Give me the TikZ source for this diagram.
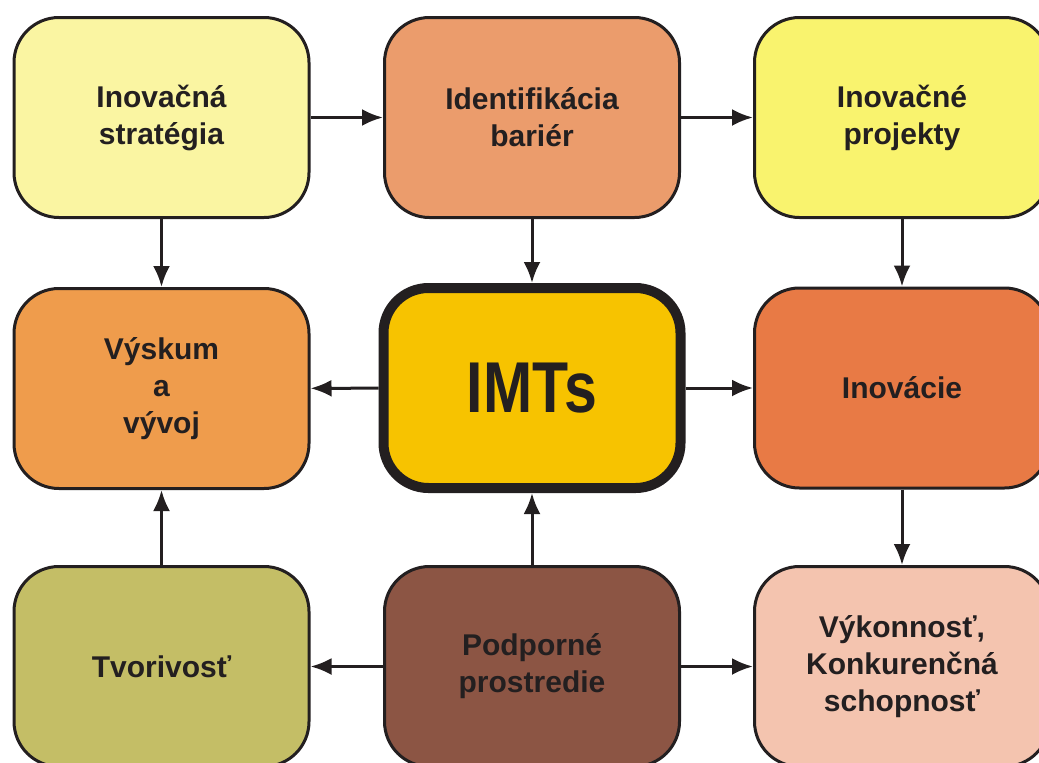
\documentclass[tikz,border=0pt]{standalone}
\usepackage{fontspec}
\setmainfont{Liberation Sans}
\usetikzlibrary{arrows.meta}

\definecolor{txt}{HTML}{231F20}
\definecolor{cstrat}{HTML}{FAF5A2}
\definecolor{cbar}{HTML}{EB9C6C}
\definecolor{cproj}{HTML}{F9F36E}
\definecolor{cvyv}{HTML}{EF9C4C}
\definecolor{cimts}{HTML}{F7C300}
\definecolor{cinov}{HTML}{E87A45}
\definecolor{ctvor}{HTML}{C4BE66}
\definecolor{cprost}{HTML}{8C5544}
\definecolor{cvyk}{HTML}{F4C4AF}

\begin{document}
\begin{tikzpicture}[x=1pt,y=-1pt]
	\tikzstyle{every node}=[font=\bfseries\fontsize{30}{37}\selectfont, text=txt]
	\tikzstyle{box}=[draw=txt, line width=3pt, rounded corners=45pt, minimum width=295pt, minimum height=200pt, align=center]
	\tikzstyle{arr}=[-{Latex[length=21pt,width=17pt]}, line width=3pt, draw=txt]
	
	\useasboundingbox (0,0) rectangle (1039,763);
	\clip (0,0) rectangle (1039,763);
	
	% top row
	\node [box, fill=cstrat] (strat) at (161.5,117.5) {Inovačná\\stratégia};
	\node [box, fill=cbar] (bar) at (532,117.5) {Identifikácia\\bariér};
	\node [box, fill=cproj] (proj) at (902,117.5) {Inovačné\\projekty};
	
	% middle row
	\node [box, fill=cvyv] (vyvoj) at (161.5,388.5) {Výskum\\a\\vývoj};
	\node [box, fill=cimts, line width=10pt, minimum width=297pt] (imts) at (532,388) {\fontsize{72}{72}\selectfont\scalebox{0.82}[1]{IMTs}};
	\node [box, fill=cinov] (inov) at (902,388) {Inovácie};
	
	% bottom row
	\node [box, fill=ctvor] (tvor) at (161.5,666.5) {Tvorivosť};
	\node [box, fill=cprost] (prostr) at (532,666.5) {Podporné\\prostredie};
	\node [box, fill=cvyk] (vykon) at (902,666.5) {Výkonnosť,\\Konkurenčná\\schopnosť};
	
	\draw [arr] (strat) -- (bar);
	\draw [arr] (bar) -- (proj);
	\draw [arr] (strat) -- (vyvoj);
	\draw [arr] (bar) -- (imts);
	\draw [arr] (proj) -- (inov);
	
	\draw [arr] (imts) -- (vyvoj);
	\draw [arr] (imts) -- (inov);
	\draw [arr] (inov) -- (vykon);
	
	\draw [arr] (tvor) -- (vyvoj);
	\draw [arr] (prostr) -- (imts);
	\draw [arr] (prostr) -- (tvor);
	\draw [arr] (prostr) -- (vykon);
	
\end{tikzpicture}
\end{document}
